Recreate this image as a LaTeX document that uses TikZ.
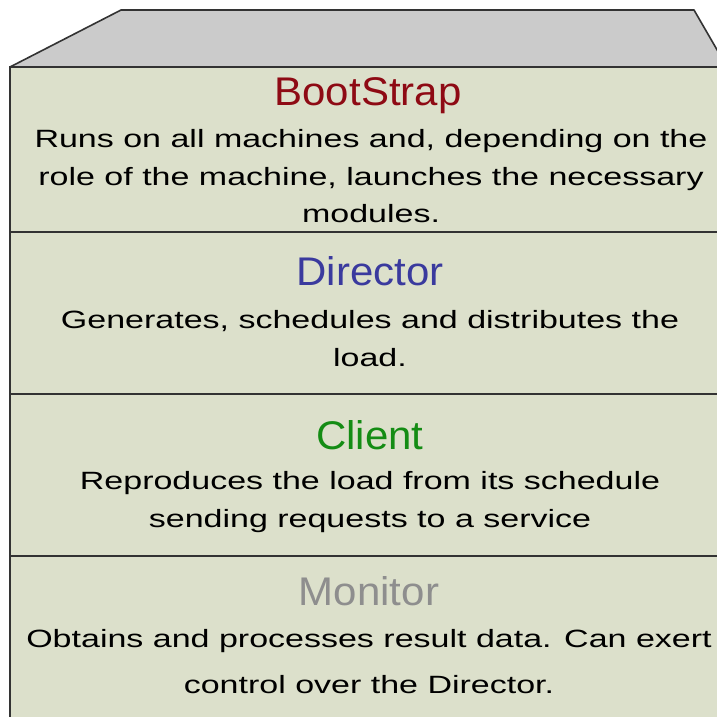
\documentclass[tikz,border=0pt]{standalone}
\usepackage{fontspec}
\setmainfont{Liberation Sans}
\newfontfamily\bodyf[FakeStretch=1.36]{Liberation Sans}
\newfontfamily\titlef[FakeStretch=1.05]{Liberation Sans}
\definecolor{boxfill}{HTML}{DCE0CB}
\definecolor{topfill}{HTML}{CBCBCB}
\definecolor{edge}{HTML}{333333}
\definecolor{cBoot}{HTML}{8E0A14}
\definecolor{cDir}{HTML}{3A3A9E}
\definecolor{cCli}{HTML}{148C14}
\definecolor{cMon}{HTML}{8E8E8E}
\tikzset{
  title/.style={anchor=base, inner sep=0pt, font=\titlef\fontsize{40}{48}\selectfont},
  body/.style={anchor=base, inner sep=0pt, text=black, font=\bodyf\fontsize{25}{30}\selectfont},
  layer/.style={draw=edge, line width=2pt, fill=boxfill},
}
\begin{document}
\begin{tikzpicture}[x=1pt,y=-1pt]
\useasboundingbox (0,0) rectangle (717,716);
\fill[white] (0,0) rectangle (717,716);
\clip (0,0) rectangle (717,716);
% top face
\draw[draw=edge, line width=1.6pt, fill=topfill, line join=round] (10,67) -- (121,10) -- (694,10) -- (727,67) -- cycle;
% layers
\draw[layer] (10,67) rectangle (740,232);
\draw[layer] (10,232) rectangle (740,394);
\draw[layer] (10,394) rectangle (740,556);
\draw[layer] (10,556) rectangle (740,740);
% BootStrap
\node[title, text=cBoot] (tb) at (368,105) {BootStrap};
\node[body] (b1) at (371,147) {Runs on all machines and, depending on the};
\node[body] (b2) at (371,185) {role of the machine, launches the necessary};
\node[body] (b3) at (371,222) {modules.};
% Director
\node[title, text=cDir] (td) at (370,285) {Director};
\node[body] (d1) at (370,328) {Generates, schedules and distributes the};
\node[body] (d2) at (370,366) {load.};
% Client
\node[title, text=cCli] (tc) at (370,449) {Client};
\node[body] (c1) at (370,489) {Reproduces the load from its schedule};
\node[body] (c2) at (370,527) {sending requests to a service};
% Monitor
\node[title, text=cMon] (tm) at (369,605) {Monitor};
\node[body] (m1) at (369,647) {Obtains and processes result data. Can exert};
\node[body] (m2) at (369,693) {control over the Director.};
\end{tikzpicture}
\end{document}
